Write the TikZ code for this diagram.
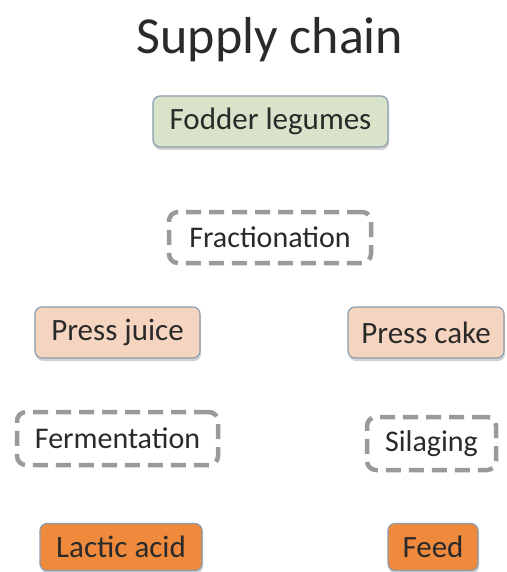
\documentclass[tikz,border=0pt]{standalone}
\usepackage{fontspec}
\setmainfont{Carlito}
\usetikzlibrary{shadows}
\definecolor{txt}{HTML}{2A2A2A}
\definecolor{greenfill}{HTML}{D8E3C9}
\definecolor{peachfill}{HTML}{F6D5C0}
\definecolor{orangefill}{HTML}{EF8A3C}
\definecolor{boxborder}{HTML}{8A9DB0}
\definecolor{dashgray}{HTML}{9A9A9A}
\tikzset{
  x=1pt, y=-1pt,
  solidbox/.style={draw=boxborder, line width=1.2pt, rounded corners=7pt,
    text=txt, font=\fontsize{31}{35}\selectfont, inner sep=0pt,
    drop shadow={shadow xshift=1pt, shadow yshift=-3pt, opacity=0.35, fill=gray}},
  dashbox/.style={draw=dashgray, line width=4.5pt, dash pattern=on 15pt off 8pt,
    rounded corners=9pt, text=txt, font=\fontsize{30}{34}\selectfont, inner sep=0pt},
}
\begin{document}
\begin{tikzpicture}
\useasboundingbox[fill=white] (0,0) rectangle (506,572);
\node[text=txt, font=\fontsize{52}{58}\selectfont] (title) at (270,40) {Supply chain};
\node[solidbox, fill=greenfill, minimum width=235pt, minimum height=51pt] (fodder) at (270.5,121.5) {Fodder legumes};
\node[dashbox, minimum width=202pt, minimum height=51pt] (fract) at (270,237.5) {Fractionation};
\node[solidbox, fill=peachfill, minimum width=165pt, minimum height=51pt] (juice) at (117.5,332.5) {Press juice};
\node[solidbox, fill=peachfill, minimum width=156pt, minimum height=51pt] (cake) at (426,332.5) {Press cake};
\node[dashbox, minimum width=201pt, minimum height=53pt] (ferm) at (117.5,438.5) {Fermentation};
\node[dashbox, minimum width=129pt, minimum height=53pt] (silage) at (431.5,443.5) {Silaging};
\node[solidbox, fill=orangefill, minimum width=162pt, minimum height=47pt] (lactic) at (121,547) {Lactic acid};
\node[solidbox, fill=orangefill, minimum width=90pt, minimum height=47pt] (feed) at (433,547) {Feed};
\end{tikzpicture}
\end{document}
